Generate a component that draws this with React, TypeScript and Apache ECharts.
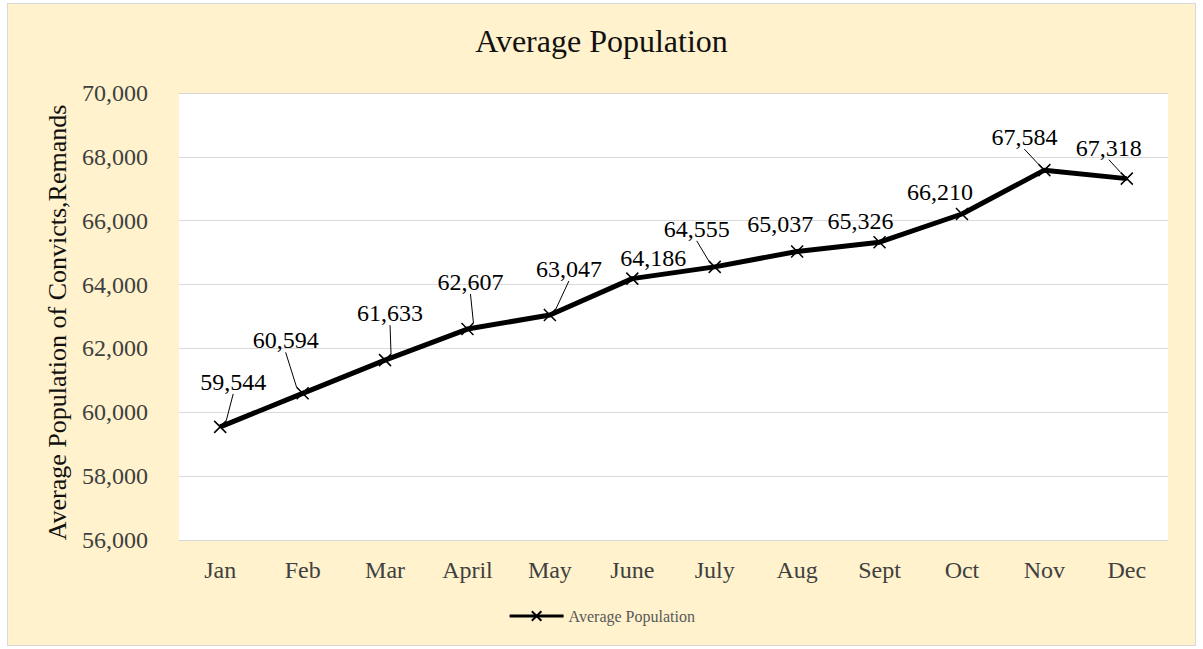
import React, { useEffect, useRef } from "react";
import * as echarts from "echarts";

const MONTHS = ["Jan", "Feb", "Mar", "April", "May", "June", "July", "Aug", "Sept", "Oct", "Nov", "Dec"];
const AVG_POPULATION = [59544, 60594, 61633, 62607, 63047, 64186, 64555, 65037, 65326, 66210, 67584, 67318];
const Y_MIN = 56000;
const Y_MAX = 70000;
const Y_STEP = 2000;
const TITLE = "Average Population";
const Y_NAME = "Average Population of Convicts,Remands";
const SERIES_NAME = "Average Population";

// label placement relative to each marker centre (dx, dy) and whether a leader line is drawn
const LABEL_DX = [13, -17, 5, 3, 19, 21, -18, -17, -19, -22, -20, -18];
const LABEL_DY = [-45, -53, -47, -47, -46, -21, -38, -27, -21, -22, -33, -31];
const LEADER = [true, true, true, true, true, false, true, false, false, false, true, true];

const FONT = "'Palatino Linotype', 'Book Antiqua', Palatino, 'Liberation Serif', serif";
const X_SYMBOL = "path://M0,0L10,10M10,0L0,10";

export default function App() {
  const ref = useRef<HTMLDivElement>(null);
  useEffect(() => {
    document.body.style.margin = "0";
    const chart = echarts.init(ref.current!, null, { renderer: "svg" });
    const fmt = (v: number) => v.toLocaleString("en-US");
    chart.setOption({
      animation: false,
      textStyle: { fontFamily: FONT },
      title: {
        text: TITLE,
        left: "center",
        top: 20,
        textStyle: { fontFamily: FONT, fontSize: 32, fontWeight: "normal", color: "#111" },
      },
      legend: {
        bottom: 20,
        left: "center",
        itemWidth: 54,
        itemHeight: 12,
        lineStyle: { width: 3 },
        textStyle: { fontFamily: FONT, fontSize: 16, color: "#595959" },
        data: [SERIES_NAME],
      },
      grid: {
        left: 179,
        right: 35,
        top: 93,
        bottom: 109,
        show: true,
        backgroundColor: "#ffffff",
        borderWidth: 0,
      },
      xAxis: {
        type: "category",
        data: MONTHS,
        boundaryGap: true,
        axisTick: { show: false },
        axisLine: { lineStyle: { color: "#D9D9D9", width: 1 } },
        axisLabel: { fontFamily: FONT, fontSize: 24, color: "#404040", margin: 18 },
      },
      yAxis: {
        type: "value",
        min: Y_MIN,
        max: Y_MAX,
        interval: Y_STEP,
        name: Y_NAME,
        nameLocation: "middle",
        nameGap: 109,
        nameTextStyle: { fontFamily: FONT, fontSize: 26, color: "#111", padding: [0, 12, 0, 0] },
        axisLine: { show: false },
        axisTick: { show: false },
        splitLine: { lineStyle: { color: "#D9D9D9", width: 1 } },
        axisLabel: { fontFamily: FONT, fontSize: 24, color: "#404040", margin: 31, formatter: fmt },
      },
      series: [
        {
          name: SERIES_NAME,
          type: "line",
          data: AVG_POPULATION.map((v, i) => ({ value: v, labelLine: { show: LEADER[i] } })),
          symbol: X_SYMBOL,
          symbolSize: 12,
          showAllSymbol: true,
          lineStyle: { color: "#000", width: 5 },
          itemStyle: { color: "#000", borderColor: "#000", borderWidth: 1.5 },
          label: {
            show: true,
            position: "top",
            fontFamily: FONT,
            fontSize: 24,
            color: "#000",
            formatter: (p: any) => fmt(p.value),
          },
          labelLine: { show: true, lineStyle: { color: "#000", width: 1 } },
          labelLayout: (params: any) => {
            const i = params.dataIndex;
            const cx = params.rect.x + params.rect.width / 2;
            const cy = params.rect.y + params.rect.height / 2;
            return { x: cx + LABEL_DX[i], y: cy + LABEL_DY[i], align: "center", verticalAlign: "middle" };
          },
        },
      ],
    });
    return () => chart.dispose();
  }, []);
  return (
    <div style={{ position: "relative", width: 1203, height: 649, background: "#fff" }}>
      <div
        style={{
          position: "absolute",
          left: 7,
          top: 3,
          width: 1189,
          height: 643,
          boxSizing: "border-box",
          background: "#FFF2CC",
          border: "1px solid #D9D9D9",
        }}
      />
      <div ref={ref} style={{ position: "absolute", left: 0, top: 0, width: 1203, height: 649 }} />
    </div>
  );
}
